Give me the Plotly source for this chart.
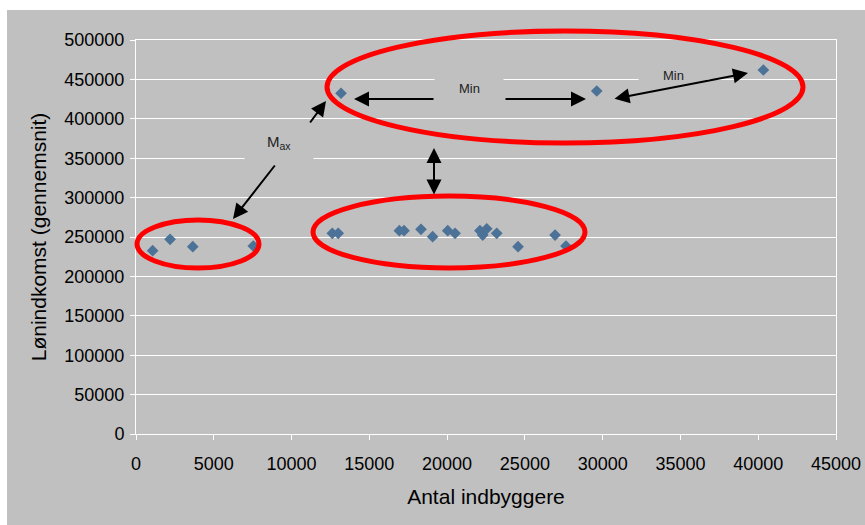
import plotly.graph_objects as go

# ---- data ----
antal_indbyggere = [1070, 2190, 3650, 7540,
                    12620, 13000, 16930, 17230, 18320, 19070, 20040, 20510,
                    22110, 22290, 22550, 23190, 24560, 26940, 27640,
                    13180, 29620, 40330]
loenindkomst = [232600, 247100, 237700, 238600,
                254700, 254700, 258000, 258000, 259800, 250400, 258000, 254700,
                258000, 252500, 260500, 254700, 237700, 252500, 238600,
                432400, 435300, 461900]

x_title = "Antal indbyggere"
y_title = "Lønindkomst (gennemsnit)"
label_min = "Min"
label_max = "M<sub>ax</sub>"

# ---- layout geometry ----
W, H = 865, 525
L, R, T, B = 136, 29, 40, 91
PW, PH = W - L - R, H - T - B
GRAY = "#C0C0C0"
FONT = "Arial, Liberation Sans, sans-serif"


def px(x):
    return (x - L) / PW


def py(y):
    return (T + PH - y) / PH


fig = go.Figure()
fig.add_trace(go.Scatter(
    x=antal_indbyggere, y=loenindkomst, mode="markers",
    marker=dict(symbol="diamond", size=9, color="#4C7298",
                line=dict(width=0)),
    showlegend=False, hoverinfo="skip"))

shapes = []
# white strips outside the gray background
shapes.append(dict(type="rect", xref="paper", yref="paper",
                   x0=px(0), x1=px(W), y0=py(0), y1=py(10),
                   fillcolor="white", line=dict(width=0), layer="below"))
shapes.append(dict(type="rect", xref="paper", yref="paper",
                   x0=px(0), x1=px(7), y0=py(0), y1=py(H),
                   fillcolor="white", line=dict(width=0), layer="below"))

# red ellipses
for (x0, y0, x1, y1) in [(137, 220, 259, 268), (313, 196, 585, 268), (327, 31, 803, 143)]:
    shapes.append(dict(type="circle", xref="paper", yref="paper",
                       x0=px(x0), x1=px(x1), y0=py(y1), y1=py(y0),
                       line=dict(color="#FF0000", width=5), layer="above"))

annotations = []
# label boxes
for (cx, cy, w, h, txt, fs) in [(469, 88, 69, 32, label_min, 13),
                                 (673, 75, 69, 30, label_min, 13),
                                 (279, 142, 69, 40, label_max, 15)]:
    shapes.append(dict(type="rect", xref="paper", yref="paper",
                       x0=px(cx - w / 2), x1=px(cx + w / 2),
                       y0=py(cy + h / 2), y1=py(cy - h / 2),
                       fillcolor=GRAY, line=dict(width=0), layer="above"))
    annotations.append(dict(xref="paper", yref="paper", x=px(cx), y=py(cy),
                            xanchor="center", yanchor="middle",
                            text=txt, showarrow=False,
                            font=dict(family=FONT, size=fs, color="#222222")))

# arrows: (tail_x, tail_y, tip_x, tip_y, double)
arrows = [(309, 124, 326, 101, False),
          (276, 164, 233, 219, False),
          (435, 99, 354, 99, False),
          (504, 99, 586, 99, False),
          (613, 99, 748, 73, True),
          (434, 196, 434, 148, True)]
for (tx, ty, hx, hy, dbl) in arrows:
    a = dict(xref="paper", yref="paper", x=px(hx), y=py(hy),
             ax=tx - hx, ay=ty - hy, axref="pixel", ayref="pixel",
             text="", showarrow=True, arrowhead=2, arrowsize=1.5,
             arrowwidth=2, arrowcolor="black", standoff=0, startstandoff=0)
    if dbl:
        a.update(arrowside="end+start", startarrowhead=2, startarrowsize=1.5)
    annotations.append(a)

fig.update_layout(
    width=W, height=H, autosize=False,
    margin=dict(l=L, r=R, t=T, b=B, pad=0),
    paper_bgcolor=GRAY, plot_bgcolor=GRAY,
    font=dict(family=FONT, color="black"),
    shapes=shapes, annotations=annotations,
    xaxis=dict(range=[0, 45000], tick0=0, dtick=5000, tickformat="d",
               automargin=False,
               showgrid=False, zeroline=False, showline=True, linecolor="white",
               linewidth=1, mirror=True, ticks="outside", tickcolor="white",
               ticklen=5, tickwidth=1, ticklabelstandoff=8,
               tickfont=dict(size=18, family=FONT, color="black"),
               title=dict(text=x_title, font=dict(size=21, family=FONT, color="black"),
                          standoff=16)),
    yaxis=dict(range=[0, 500000], tick0=0, dtick=50000, tickformat="d",
               automargin=False,
               showgrid=True, gridcolor="white", gridwidth=1, zeroline=False,
               showline=True, linecolor="white", linewidth=1, mirror=True,
               ticks="outside", tickcolor="white", ticklen=5, tickwidth=1,
               ticklabelstandoff=2,
               tickfont=dict(size=18, family=FONT, color="black"),
               title=dict(text=y_title, font=dict(size=21, family=FONT, color="black"),
                          standoff=11)),
)

fig.write_html("out.html")
